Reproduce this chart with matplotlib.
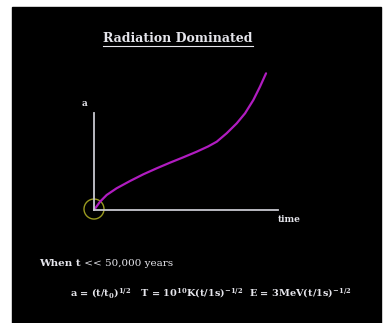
import matplotlib.pyplot as plt
from matplotlib.patches import Rectangle, Ellipse

# scale factor a against time (t and a in axis units)
t_vals = [0.0, 0.033, 0.069, 0.123, 0.196, 0.268, 0.341, 0.413, 0.485,
          0.558, 0.620, 0.667, 0.721, 0.776, 0.821, 0.866, 0.902, 0.935]
a_vals = [0.0, 0.086, 0.155, 0.224, 0.299, 0.368, 0.430, 0.488, 0.543,
          0.601, 0.655, 0.704, 0.791, 0.894, 0.997, 1.134, 1.271, 1.409]

title = 'Radiation Dominated'
cond_bold = 'When t'
cond_rest = ' << 50,000 years'
formulas = (r'a = (t/t$_\mathbf{0}$)$^\mathbf{1/2}$   T = 10$^\mathbf{10}$K(t/1s)$^\mathbf{-1/2}$'
            r'  E = 3MeV(t/1s)$^\mathbf{-1/2}$')

W, H = 383, 323
plt.rcParams['font.family'] = 'DejaVu Serif'
plt.rcParams['mathtext.fontset'] = 'dejavuserif'

fig = plt.figure(figsize=(W / 100, H / 100), dpi=100)
fig.patch.set_facecolor('white')
# black slide area
fig.patches.append(Rectangle((12 / W, 0), 369 / W, 316 / H,
                             transform=fig.transFigure, color='black', zorder=-5))

txt = '#e6e6ec'
grey = '#c8c8d0'

# plot axes: origin at pixel (94, 210), one a-unit = 97 px, one t-unit = 184 px
x0, y0 = 94, 210
ax = fig.add_axes([x0 / W, (H - y0) / H, 184 / W, 145 / H])
ax.set_zorder(2)
ax.set_xlim(0, 1)
ax.set_ylim(0, 145 / 97)
ax.set_facecolor('none')
for s in ['top', 'right']:
    ax.spines[s].set_visible(False)
ax.spines['left'].set_color(grey)
ax.spines['bottom'].set_color(grey)
ax.spines['left'].set_linewidth(1.3)
ax.spines['bottom'].set_linewidth(1.3)
ax.spines['left'].set_bounds(0, 1.0)
ax.set_xticks([])
ax.set_yticks([])

ax.plot(t_vals, a_vals, color='#b01cc0', lw=1.6, solid_capstyle='round',
        solid_joinstyle='round', clip_on=False)

# circle around the origin
ax.add_patch(Ellipse((0.0, 0.01), 20 / 184, 20 / 97, fill=False,
                     edgecolor='#9a9a20', lw=1.0, clip_on=False))

ax.text(-0.05, 1.05, 'a', color=txt, fontsize=6.5, fontweight='bold',
        ha='center', va='bottom')
ax.text(1.0, -0.095, 'time', color=txt, fontsize=6.5, fontweight='bold',
        ha='left', va='center')

# title with underline
t = fig.text(178 / W, 1 - 38 / H, title, color=txt, fontsize=9,
             fontweight='bold', ha='center', va='center')
fig.canvas.draw()
bb = t.get_window_extent(fig.canvas.get_renderer())
fig.add_artist(plt.Line2D([bb.x0 / W, bb.x1 / W],
                          [(bb.y0 - 1) / H, (bb.y0 - 1) / H],
                          transform=fig.transFigure, color=txt, lw=0.8))

c1 = fig.text(39 / W, 1 - 264 / H, cond_bold, color=txt, fontsize=7.5,
              fontweight='bold', ha='left', va='center')
fig.canvas.draw()
bb1 = c1.get_window_extent(fig.canvas.get_renderer())
fig.text(bb1.x1 / W, 1 - 264 / H, cond_rest, color=txt, fontsize=7.5,
         ha='left', va='center')

fig.text(70 / W, 1 - 293 / H, formulas, color=txt, fontsize=7,
         fontweight='bold', ha='left', va='center')

fig.savefig('out.png', dpi=100, facecolor=fig.get_facecolor())
